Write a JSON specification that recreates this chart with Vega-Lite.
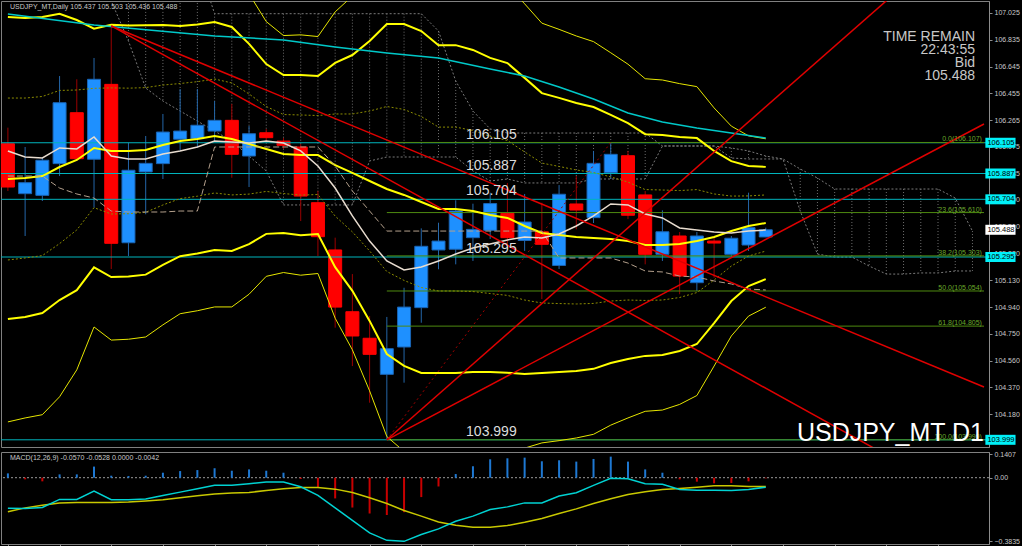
{
"$schema": "https://vega.github.io/schema/vega-lite/v6.json",
"background": "#000000",
"padding": 0,
"spacing": 1,
"config": {
 "view": {"stroke": "#808080", "fill": "#000000"},
 "axis": {"grid": false, "domainColor": "#8c8c8c", "tickColor": "#8c8c8c", "labelColor": "#c8c8c8", "labelFont": "Liberation Sans", "labelFontSize": 7},
 "text": {"font": "Liberation Sans"}
},
"datasets": {
 "bars": [
  {"i":0,"o":106.098,"h":106.212,"l":105.763,"c":105.791,"m":105.848,"u1":106.422,"d1":105.274,"u2":106.996,"d2":104.855,"u3":107.570,"d3":104.126,"tk":106.047,"kj":105.869,"macd":-0.184,"sig":-0.206,"hist":0.026},
  {"i":1,"o":105.744,"h":106.075,"l":105.444,"c":105.822,"m":105.855,"u1":106.422,"d1":105.288,"u2":106.989,"d2":104.870,"u3":107.556,"d3":104.154,"tk":106.004,"kj":105.869,"macd":-0.186,"sig":-0.182,"hist":-0.010},
  {"i":2,"o":105.732,"h":105.999,"l":105.692,"c":105.981,"m":105.869,"u1":106.433,"d1":105.305,"u2":106.997,"d2":104.898,"u3":107.561,"d3":104.177,"tk":105.997,"kj":105.869,"macd":-0.180,"sig":-0.166,"hist":-0.022},
  {"i":3,"o":105.957,"h":106.578,"l":105.869,"c":106.389,"m":105.933,"u1":106.476,"d1":105.390,"u2":107.019,"d2":104.990,"u3":107.562,"d3":104.304,"tk":106.068,"kj":105.784,"macd":-0.131,"sig":-0.152,"hist":0.020},
  {"i":4,"o":106.318,"h":106.555,"l":105.976,"c":105.992,"m":105.983,"u1":106.479,"d1":105.487,"u2":106.975,"d2":105.060,"u3":107.471,"d3":104.495,"tk":106.061,"kj":105.742,"macd":-0.131,"sig":-0.149,"hist":0.020},
  {"i":5,"o":105.988,"h":106.706,"l":105.645,"c":106.555,"m":106.068,"u1":106.491,"d1":105.645,"u2":106.914,"d2":105.222,"u3":107.337,"d3":104.799,"tk":106.146,"kj":105.713,"macd":-0.081,"sig":-0.149,"hist":0.067},
  {"i":6,"o":106.519,"h":106.933,"l":105.210,"c":105.392,"m":106.047,"u1":106.494,"d1":105.600,"u2":106.941,"d2":105.153,"u3":107.388,"d3":104.706,"tk":106.011,"kj":105.621,"macd":-0.133,"sig":-0.149,"hist":0.012},
  {"i":7,"o":105.396,"h":106.105,"l":105.302,"c":105.910,"m":106.047,"u1":106.492,"d1":105.602,"u2":106.937,"d2":105.157,"u3":107.382,"d3":104.712,"tk":105.990,"kj":105.614,"macd":-0.133,"sig":-0.147,"hist":0.010},
  {"i":8,"o":105.898,"h":106.153,"l":105.598,"c":105.959,"m":106.054,"u1":106.496,"d1":105.612,"u2":106.938,"d2":105.170,"u3":107.380,"d3":104.728,"tk":105.990,"kj":105.614,"macd":-0.129,"sig":-0.141,"hist":0.012},
  {"i":9,"o":105.957,"h":106.309,"l":105.848,"c":106.181,"m":106.089,"u1":106.514,"d1":105.664,"u2":106.939,"d2":105.239,"u3":107.364,"d3":104.814,"tk":106.025,"kj":105.614,"macd":-0.107,"sig":-0.133,"hist":0.030},
  {"i":10,"o":106.130,"h":106.486,"l":106.047,"c":106.188,"m":106.117,"u1":106.525,"d1":105.709,"u2":106.933,"d2":105.301,"u3":107.341,"d3":104.893,"tk":106.047,"kj":105.621,"macd":-0.087,"sig":-0.121,"hist":0.040},
  {"i":11,"o":106.134,"h":106.486,"l":106.070,"c":106.229,"m":106.132,"u1":106.538,"d1":105.726,"u2":106.944,"d2":105.320,"u3":107.350,"d3":104.914,"tk":106.075,"kj":105.621,"macd":-0.067,"sig":-0.109,"hist":0.046},
  {"i":12,"o":106.188,"h":106.401,"l":106.117,"c":106.264,"m":106.153,"u1":106.557,"d1":105.749,"u2":106.961,"d2":105.345,"u3":107.365,"d3":104.941,"tk":106.117,"kj":106.075,"macd":-0.046,"sig":-0.099,"hist":0.057},
  {"i":13,"o":106.264,"h":106.380,"l":105.857,"c":106.023,"m":106.132,"u1":106.529,"d1":105.735,"u2":106.926,"d2":105.338,"u3":107.323,"d3":104.941,"tk":106.110,"kj":106.075,"macd":-0.046,"sig":-0.093,"hist":0.042},
  {"i":14,"o":106.011,"h":106.224,"l":105.791,"c":106.169,"m":106.096,"u1":106.451,"d1":105.741,"u2":106.806,"d2":105.386,"u3":107.161,"d3":105.031,"tk":106.103,"kj":106.075,"macd":-0.036,"sig":-0.089,"hist":0.050},
  {"i":15,"o":106.176,"h":106.203,"l":106.117,"c":106.141,"m":106.061,"u1":106.362,"d1":105.760,"u2":106.663,"d2":105.459,"u3":106.964,"d3":105.158,"tk":106.117,"kj":106.075,"macd":-0.026,"sig":-0.077,"hist":0.042},
  {"i":16,"o":106.117,"h":106.139,"l":106.061,"c":106.087,"m":106.025,"u1":106.305,"d1":105.745,"u2":106.585,"d2":105.465,"u3":106.865,"d3":105.185,"tk":106.103,"kj":106.075,"macd":-0.026,"sig":-0.067,"hist":0.030},
  {"i":17,"o":106.075,"h":106.096,"l":105.550,"c":105.727,"m":106.018,"u1":106.302,"d1":105.734,"u2":106.586,"d2":105.450,"u3":106.870,"d3":105.166,"tk":106.047,"kj":106.075,"macd":-0.055,"sig":-0.059,"hist":-0.008},
  {"i":18,"o":105.680,"h":105.763,"l":105.302,"c":105.439,"m":106.018,"u1":106.298,"d1":105.738,"u2":106.578,"d2":105.458,"u3":106.858,"d3":105.178,"tk":105.940,"kj":106.075,"macd":-0.107,"sig":-0.059,"hist":-0.060},
  {"i":19,"o":105.345,"h":105.432,"l":104.794,"c":104.940,"m":105.947,"u1":106.309,"d1":105.585,"u2":106.671,"d2":105.223,"u3":107.033,"d3":104.861,"tk":105.784,"kj":105.940,"macd":-0.182,"sig":-0.069,"hist":-0.125},
  {"i":20,"o":104.907,"h":105.174,"l":104.522,"c":104.735,"m":105.891,"u1":106.309,"d1":105.473,"u2":106.727,"d2":105.055,"u3":107.145,"d3":104.637,"tk":105.586,"kj":105.763,"macd":-0.257,"sig":-0.089,"hist":-0.180},
  {"i":21,"o":104.719,"h":104.877,"l":104.262,"c":104.605,"m":105.834,"u1":106.330,"d1":105.338,"u2":106.826,"d2":104.842,"u3":107.322,"d3":104.346,"tk":105.408,"kj":105.621,"macd":-0.333,"sig":-0.121,"hist":-0.216},
  {"i":22,"o":104.463,"h":104.870,"l":103.999,"c":104.645,"m":105.777,"u1":106.362,"d1":105.192,"u2":106.947,"d2":104.607,"u3":107.532,"d3":104.022,"tk":105.267,"kj":105.479,"macd":-0.378,"sig":-0.156,"hist":-0.225},
  {"i":23,"o":104.657,"h":105.077,"l":104.404,"c":104.940,"m":105.735,"u1":106.341,"d1":105.129,"u2":106.947,"d2":104.523,"u3":107.553,"d3":103.917,"tk":105.203,"kj":105.479,"macd":-0.384,"sig":-0.198,"hist":-0.208},
  {"i":24,"o":104.936,"h":105.498,"l":104.829,"c":105.371,"m":105.685,"u1":106.291,"d1":105.079,"u2":106.897,"d2":104.473,"u3":107.503,"d3":103.867,"tk":105.224,"kj":105.479,"macd":-0.343,"sig":-0.232,"hist":-0.117},
  {"i":25,"o":105.345,"h":105.538,"l":105.208,"c":105.408,"m":105.635,"u1":106.216,"d1":105.054,"u2":106.797,"d2":104.473,"u3":107.378,"d3":103.892,"tk":105.267,"kj":105.479,"macd":-0.309,"sig":-0.267,"hist":-0.053},
  {"i":26,"o":105.350,"h":105.697,"l":105.243,"c":105.621,"m":105.635,"u1":106.216,"d1":105.054,"u2":106.797,"d2":104.473,"u3":107.378,"d3":103.892,"tk":105.316,"kj":105.479,"macd":-0.263,"sig":-0.287,"hist":0.022},
  {"i":27,"o":105.432,"h":105.673,"l":105.267,"c":105.491,"m":105.621,"u1":106.192,"d1":105.050,"u2":106.763,"d2":104.479,"u3":107.334,"d3":103.908,"tk":105.359,"kj":105.479,"macd":-0.232,"sig":-0.299,"hist":0.069},
  {"i":28,"o":105.484,"h":105.751,"l":105.423,"c":105.674,"m":105.593,"u1":106.150,"d1":105.036,"u2":106.707,"d2":104.479,"u3":107.264,"d3":103.922,"tk":105.387,"kj":105.479,"macd":-0.192,"sig":-0.299,"hist":0.111},
  {"i":29,"o":105.605,"h":105.820,"l":105.373,"c":105.432,"m":105.572,"u1":106.121,"d1":105.023,"u2":106.670,"d2":104.474,"u3":107.219,"d3":103.925,"tk":105.416,"kj":105.479,"macd":-0.176,"sig":-0.289,"hist":0.117},
  {"i":30,"o":105.412,"h":105.742,"l":105.338,"c":105.543,"m":105.515,"u1":106.040,"d1":104.990,"u2":106.565,"d2":104.465,"u3":107.090,"d3":103.940,"tk":105.437,"kj":105.479,"macd":-0.152,"sig":-0.269,"hist":0.121},
  {"i":31,"o":105.474,"h":105.680,"l":104.997,"c":105.385,"m":105.465,"u1":105.961,"d1":104.969,"u2":106.457,"d2":104.473,"u3":106.953,"d3":103.977,"tk":105.430,"kj":105.479,"macd":-0.152,"sig":-0.246,"hist":0.099},
  {"i":32,"o":105.235,"h":105.805,"l":105.210,"c":105.740,"m":105.451,"u1":105.937,"d1":104.965,"u2":106.423,"d2":104.479,"u3":106.909,"d3":103.993,"tk":105.458,"kj":105.288,"macd":-0.111,"sig":-0.216,"hist":0.105},
  {"i":33,"o":105.671,"h":105.869,"l":105.491,"c":105.628,"m":105.437,"u1":105.912,"d1":104.962,"u2":106.387,"d2":104.487,"u3":106.862,"d3":104.012,"tk":105.515,"kj":105.288,"macd":-0.091,"sig":-0.188,"hist":0.097},
  {"i":34,"o":105.574,"h":106.047,"l":105.536,"c":105.959,"m":105.430,"u1":105.894,"d1":104.966,"u2":106.358,"d2":104.502,"u3":106.822,"d3":104.038,"tk":105.586,"kj":105.288,"macd":-0.046,"sig":-0.156,"hist":0.113},
  {"i":35,"o":105.893,"h":106.107,"l":105.848,"c":106.023,"m":105.423,"u1":105.863,"d1":104.983,"u2":106.303,"d2":104.543,"u3":106.743,"d3":104.103,"tk":105.671,"kj":105.288,"macd":-0.004,"sig":-0.127,"hist":0.127},
  {"i":36,"o":106.013,"h":106.047,"l":105.564,"c":105.591,"m":105.408,"u1":105.826,"d1":104.990,"u2":106.244,"d2":104.572,"u3":106.662,"d3":104.154,"tk":105.664,"kj":105.252,"macd":-0.006,"sig":-0.101,"hist":0.097},
  {"i":37,"o":105.735,"h":105.763,"l":105.243,"c":105.314,"m":105.380,"u1":105.773,"d1":104.987,"u2":106.166,"d2":104.594,"u3":106.559,"d3":104.201,"tk":105.600,"kj":105.196,"macd":-0.036,"sig":-0.085,"hist":0.050},
  {"i":38,"o":105.314,"h":105.626,"l":105.267,"c":105.474,"m":105.380,"u1":105.770,"d1":104.990,"u2":106.160,"d2":104.600,"u3":106.550,"d3":104.210,"tk":105.572,"kj":105.189,"macd":-0.040,"sig":-0.071,"hist":0.030},
  {"i":39,"o":105.444,"h":105.472,"l":105.031,"c":105.160,"m":105.387,"u1":105.766,"d1":105.008,"u2":106.145,"d2":104.629,"u3":106.524,"d3":104.250,"tk":105.501,"kj":105.160,"macd":-0.071,"sig":-0.065,"hist":-0.010},
  {"i":40,"o":105.113,"h":105.472,"l":105.054,"c":105.444,"m":105.408,"u1":105.773,"d1":105.043,"u2":106.138,"d2":104.678,"u3":106.503,"d3":104.313,"tk":105.486,"kj":105.153,"macd":-0.075,"sig":-0.057,"hist":-0.024},
  {"i":41,"o":105.408,"h":105.444,"l":105.148,"c":105.394,"m":105.437,"u1":105.742,"d1":105.132,"u2":106.047,"d2":104.827,"u3":106.352,"d3":104.522,"tk":105.472,"kj":105.125,"macd":-0.075,"sig":-0.048,"hist":-0.034},
  {"i":42,"o":105.314,"h":105.444,"l":105.290,"c":105.428,"m":105.479,"u1":105.727,"d1":105.231,"u2":105.975,"d2":104.983,"u3":106.223,"d3":104.735,"tk":105.465,"kj":105.104,"macd":-0.077,"sig":-0.048,"hist":-0.032},
  {"i":43,"o":105.380,"h":105.751,"l":105.338,"c":105.503,"m":105.515,"u1":105.728,"d1":105.302,"u2":105.941,"d2":105.089,"u3":106.154,"d3":104.876,"tk":105.479,"kj":105.068,"macd":-0.071,"sig":-0.053,"hist":-0.022},
  {"i":44,"o":105.437,"h":105.503,"l":105.436,"c":105.488,"m":105.536,"u1":105.735,"d1":105.337,"u2":105.934,"d2":105.138,"u3":106.133,"d3":104.939,"tk":105.486,"kj":105.061,"macd":-0.057,"sig":-0.053,"hist":-0.004}
 ],
 "ma": [
  {"i":0,"v":107.018},{"i":5,"v":106.940},{"i":12,"v":106.862},{"i":16,"v":106.834},{"i":19,"v":106.784},{"i":22,"v":106.741},{"i":25,"v":106.706},{"i":28,"v":106.628},{"i":30,"v":106.578},{"i":32,"v":106.500},{"i":34,"v":106.415},{"i":36,"v":106.316},{"i":38,"v":106.252},{"i":40,"v":106.210},{"i":42,"v":106.174},{"i":44,"v":106.139}
 ],
 "kumo": [
  {"i":0,"a":107.394,"b":107.394},{"i":1,"a":107.394,"b":107.394},{"i":2,"a":107.394,"b":107.394},{"i":3,"a":107.394,"b":107.394},{"i":4,"a":107.394,"b":107.394},{"i":5,"a":107.394,"b":107.394},
  {"i":6,"a":107.394,"b":107.110},{"i":7,"a":107.394,"b":106.826},{"i":8,"a":107.394,"b":106.493},{"i":9,"a":107.394,"b":106.401},{"i":10,"a":107.394,"b":106.330},{"i":11,"a":107.394,"b":106.259},
  {"i":12,"a":107.020,"b":106.188},{"i":13,"a":107.020,"b":106.117},{"i":14,"a":107.020,"b":106.011},{"i":15,"a":107.020,"b":105.905},{"i":16,"a":107.020,"b":105.664},{"i":17,"a":107.020,"b":105.664},{"i":18,"a":107.020,"b":105.664},{"i":19,"a":107.020,"b":105.664},{"i":20,"a":107.020,"b":105.664},
  {"i":21,"a":107.020,"b":105.976},{"i":22,"a":107.020,"b":106.004},{"i":23,"a":107.020,"b":106.004},{"i":24,"a":107.020,"b":106.004},{"i":25,"a":106.897,"b":106.004},{"i":26,"a":106.543,"b":106.004},{"i":27,"a":106.330,"b":105.905},{"i":28,"a":106.203,"b":105.834},{"i":29,"a":106.174,"b":105.848},
  {"i":30,"a":106.174,"b":105.820},{"i":31,"a":106.174,"b":105.820},{"i":32,"a":106.174,"b":105.820},{"i":33,"a":106.174,"b":105.820},{"i":34,"a":106.174,"b":105.848},{"i":35,"a":106.174,"b":105.848},{"i":36,"a":106.174,"b":105.848},{"i":37,"a":106.174,"b":105.848},
  {"i":38,"a":106.082,"b":106.082},{"i":39,"a":106.082,"b":106.082},{"i":40,"a":106.082,"b":106.082},{"i":41,"a":106.082,"b":106.082},{"i":42,"a":106.068,"b":105.997},{"i":43,"a":106.047,"b":105.990},{"i":44,"a":106.011,"b":105.990},{"i":45,"a":105.990,"b":105.990},
  {"i":46,"a":105.919,"b":105.621},{"i":47,"a":105.855,"b":105.316},{"i":48,"a":105.777,"b":105.295},{"i":49,"a":105.777,"b":105.295},{"i":50,"a":105.777,"b":105.231},{"i":51,"a":105.777,"b":105.174},{"i":52,"a":105.777,"b":105.174},{"i":53,"a":105.777,"b":105.182},{"i":54,"a":105.777,"b":105.182},{"i":55,"a":105.713,"b":105.196},{"i":56,"a":105.479,"b":105.196}
 ],
 "trend": [
  {"x1":6,"y1":106.933,"x2":56.67,"y2":104.373,"k":"s"},
  {"x1":6,"y1":106.933,"x2":56.67,"y2":103.508,"k":"s"},
  {"x1":22,"y1":103.999,"x2":56.67,"y2":107.72,"k":"s"},
  {"x1":22,"y1":103.999,"x2":56.67,"y2":106.238,"k":"s"},
  {"x1":22,"y1":103.999,"x2":35,"y2":106.107,"k":"d"}
 ],
 "hl": [
  {"p":106.105,"t":"106.105"},{"p":105.887,"t":"105.887"},{"p":105.704,"t":"105.704"},{"p":105.295,"t":"105.295"},{"p":103.999,"t":"103.999"}
 ],
 "fib": [
  {"p":106.107,"t":"0.0(106.107)"},{"p":105.610,"t":"23.6(105.610)"},{"p":105.303,"t":"38.2(105.303)"},{"p":105.054,"t":"50.0(105.054)"},{"p":104.805,"t":"61.8(104.805)"},{"p":103.999,"t":"100.0(103.999)"}
 ]
},
"vconcat": [
 {
  "width": 988, "height": 446,
  "resolve": {"axis": {"x": "independent", "y": "independent"}},
  "layer": [
   {"data": {"name": "kumo"}, "mark": {"type": "rule", "clip": true, "color": "#6e6e6e", "strokeDash": [1, 2], "strokeWidth": 1},
    "encoding": {"x": {"field": "i", "type": "quantitative", "scale": {"domain": [-0.11, 56.67], "nice": false, "zero": false}, "axis": null},
     "y": {"field": "a", "type": "quantitative", "scale": {"domain": [103.948, 107.11], "zero": false, "nice": false},
      "axis": {"orient": "right", "title": null, "values": [107.025, 106.835, 106.645, 106.455, 106.265, 106.075, 105.885, 105.7, 105.51, 105.32, 105.13, 104.94, 104.75, 104.56, 104.37, 104.18], "format": ".3f", "tickSize": 3, "labelPadding": 2, "labels": true, "ticks": true, "domain": true}},
     "y2": {"field": "b"}}},
   {"data": {"name": "kumo"}, "mark": {"type": "line", "clip": true, "color": "#7a7a7a", "strokeDash": [2, 2], "strokeWidth": 1},
    "encoding": {"x": {"field": "i", "type": "quantitative", "axis": null}, "y": {"field": "a", "type": "quantitative", "axis": null}}},
   {"data": {"name": "kumo"}, "mark": {"type": "line", "clip": true, "color": "#7a7a7a", "strokeDash": [2, 2], "strokeWidth": 1},
    "encoding": {"x": {"field": "i", "type": "quantitative", "axis": null}, "y": {"field": "b", "type": "quantitative", "axis": null}}},
   {"data": {"name": "bars"}, "mark": {"type": "rule", "strokeWidth": 1},
    "encoding": {"x": {"field": "i", "type": "quantitative", "axis": null}, "y": {"field": "l", "type": "quantitative", "axis": null}, "y2": {"field": "h"},
     "color": {"condition": {"test": "datum.c >= datum.o", "value": "#2466a8"}, "value": "#9a0000"}}},
   {"data": {"name": "bars"}, "mark": {"type": "bar", "size": 13, "strokeWidth": 1},
    "encoding": {"x": {"field": "i", "type": "quantitative", "axis": null}, "y": {"field": "o", "type": "quantitative", "axis": null}, "y2": {"field": "c"},
     "color": {"condition": {"test": "datum.c >= datum.o", "value": "#1e90ff"}, "value": "#ff0000"},
     "stroke": {"condition": {"test": "datum.c >= datum.o", "value": "#1a64b4"}, "value": "#ff0000"}}},
   {"data": {"name": "hl"}, "mark": {"type": "rule", "color": "#00b4bc", "strokeWidth": 1},
    "encoding": {"y": {"field": "p", "type": "quantitative", "axis": null}}},
   {"data": {"name": "fib"}, "mark": {"type": "rule", "color": "#4e8a10", "strokeWidth": 1},
    "encoding": {"x": {"datum": 22, "axis": null}, "x2": {"datum": 56.67}, "y": {"field": "p", "type": "quantitative", "axis": null}}},
   {"data": {"name": "bars"}, "mark": {"type": "line", "clip": true, "color": "#8c8c00", "strokeDash": [2, 2], "strokeWidth": 1},
    "encoding": {"x": {"field": "i", "type": "quantitative", "axis": null}, "y": {"field": "u1", "type": "quantitative", "axis": null}}},
   {"data": {"name": "bars"}, "mark": {"type": "line", "clip": true, "color": "#8c8c00", "strokeDash": [2, 2], "strokeWidth": 1},
    "encoding": {"x": {"field": "i", "type": "quantitative", "axis": null}, "y": {"field": "d1", "type": "quantitative", "axis": null}}},
   {"data": {"name": "bars"}, "mark": {"type": "line", "clip": true, "color": "#e6e600", "strokeWidth": 1},
    "encoding": {"x": {"field": "i", "type": "quantitative", "axis": null}, "y": {"field": "u3", "type": "quantitative", "axis": null}}},
   {"data": {"name": "bars"}, "mark": {"type": "line", "clip": true, "color": "#e6e600", "strokeWidth": 1},
    "encoding": {"x": {"field": "i", "type": "quantitative", "axis": null}, "y": {"field": "d3", "type": "quantitative", "axis": null}}},
   {"data": {"name": "bars"}, "mark": {"type": "line", "clip": true, "color": "#ffff00", "strokeWidth": 2},
    "encoding": {"x": {"field": "i", "type": "quantitative", "axis": null}, "y": {"field": "u2", "type": "quantitative", "axis": null}}},
   {"data": {"name": "bars"}, "mark": {"type": "line", "clip": true, "color": "#ffff00", "strokeWidth": 2},
    "encoding": {"x": {"field": "i", "type": "quantitative", "axis": null}, "y": {"field": "d2", "type": "quantitative", "axis": null}}},
   {"data": {"name": "bars"}, "mark": {"type": "line", "clip": true, "color": "#ffff00", "strokeWidth": 2},
    "encoding": {"x": {"field": "i", "type": "quantitative", "axis": null}, "y": {"field": "m", "type": "quantitative", "axis": null}}},
   {"data": {"name": "ma"}, "mark": {"type": "line", "clip": true, "color": "#00c8c8", "strokeWidth": 1.5},
    "encoding": {"x": {"field": "i", "type": "quantitative", "axis": null}, "y": {"field": "v", "type": "quantitative", "axis": null}}},
   {"data": {"name": "bars"}, "mark": {"type": "line", "clip": true, "color": "#b4a08c", "strokeDash": [6, 3], "strokeWidth": 1},
    "encoding": {"x": {"field": "i", "type": "quantitative", "axis": null}, "y": {"field": "kj", "type": "quantitative", "axis": null}}},
   {"data": {"name": "bars"}, "mark": {"type": "line", "clip": true, "color": "#e8dccf", "strokeWidth": 1.5},
    "encoding": {"x": {"field": "i", "type": "quantitative", "axis": null}, "y": {"field": "tk", "type": "quantitative", "axis": null}}},
   {"data": {"name": "trend"}, "transform": [{"filter": "datum.k == 's'"}], "mark": {"type": "rule", "clip": true, "color": "#e00000", "strokeWidth": 1.5},
    "encoding": {"x": {"field": "x1", "type": "quantitative", "axis": null}, "y": {"field": "y1", "type": "quantitative", "axis": null}, "x2": {"field": "x2"}, "y2": {"field": "y2"}}},
   {"data": {"name": "trend"}, "transform": [{"filter": "datum.k == 'd'"}], "mark": {"type": "rule", "clip": true, "color": "#a00000", "strokeDash": [2, 3], "strokeWidth": 1},
    "encoding": {"x": {"field": "x1", "type": "quantitative", "axis": null}, "y": {"field": "y1", "type": "quantitative", "axis": null}, "x2": {"field": "x2"}, "y2": {"field": "y2"}}},
   {"data": {"name": "hl"}, "mark": {"type": "text", "align": "left", "baseline": "bottom", "dy": -1, "fontSize": 14, "color": "#dcdcdc"},
    "encoding": {"x": {"datum": 26.6, "axis": null}, "y": {"field": "p", "type": "quantitative", "axis": null}, "text": {"field": "t"}}},
   {"data": {"name": "fib"}, "mark": {"type": "text", "align": "right", "baseline": "bottom", "dy": 0, "fontSize": 7, "color": "#6aa82a"},
    "encoding": {"x": {"datum": 56.55, "axis": null}, "y": {"field": "p", "type": "quantitative", "axis": null}, "text": {"field": "t"}}},
   {"data": {"name": "hl"}, "mark": {"type": "rule", "color": "#00f0f8", "strokeWidth": 10, "strokeCap": "butt"},
    "encoding": {"x": {"datum": 56.75, "axis": null}, "x2": {"datum": 58.5}, "y": {"field": "p", "type": "quantitative", "axis": null}}},
   {"data": {"name": "hl"}, "mark": {"type": "text", "align": "left", "baseline": "middle", "dx": 2, "fontSize": 7.5, "color": "#000000"},
    "encoding": {"x": {"datum": 56.75, "axis": null}, "y": {"field": "p", "type": "quantitative", "axis": null}, "text": {"field": "t"}}},
   {"data": {"values": [{"p": 105.488, "t": "105.488"}]}, "mark": {"type": "rule", "color": "#ffffff", "strokeWidth": 10, "strokeCap": "butt"},
    "encoding": {"x": {"datum": 56.75, "axis": null}, "x2": {"datum": 58.5}, "y": {"field": "p", "type": "quantitative", "axis": null}}},
   {"data": {"values": [{"p": 105.488, "t": "105.488"}]}, "mark": {"type": "text", "align": "left", "baseline": "middle", "dx": 2, "fontSize": 7.5, "color": "#000000"},
    "encoding": {"x": {"datum": 56.75, "axis": null}, "y": {"field": "p", "type": "quantitative", "axis": null}, "text": {"field": "t"}}},
   {"data": {"values": [{}]}, "mark": {"type": "text", "text": ["TIME REMAIN", "22:43:55", "Bid", "105.488"], "lineHeight": 13, "align": "right", "baseline": "top", "fontSize": 14, "color": "#c8c8c8"},
    "encoding": {"x": {"datum": 56.15, "axis": null}, "y": {"datum": 106.904, "axis": null}}},
   {"data": {"values": [{}]}, "mark": {"type": "text", "text": "USDJPY_MT,Daily  105.437 105.503 105.436 105.488", "align": "left", "baseline": "top", "dx": 4, "dy": 2, "fontSize": 7, "color": "#c8c8c8"},
    "encoding": {"x": {"datum": -0.11, "axis": null}, "y": {"datum": 107.11, "axis": null}}},
   {"data": {"values": [{}]}, "mark": {"type": "text", "text": "USDJPY_MT D1", "align": "right", "baseline": "bottom", "dy": -1, "fontSize": 25, "color": "#ffffff"},
    "encoding": {"x": {"datum": 56.67, "axis": null}, "y": {"datum": 103.948, "axis": null}}}
  ]
 },
 {
  "width": 988, "height": 92,
  "resolve": {"axis": {"x": "independent", "y": "independent"}},
  "layer": [
   {"data": {"values": [{}]}, "mark": {"type": "rule", "color": "#9a9a9a", "strokeDash": [2, 2], "strokeWidth": 1},
    "encoding": {"y": {"datum": 0, "type": "quantitative", "scale": {"domain": [-0.4, 0.155], "nice": false, "zero": false},
     "axis": {"orient": "right", "title": null, "values": [0.1407, 0, -0.3835], "labelExpr": "datum.value == 0 ? '0.00' : format(datum.value, '.4f')", "tickSize": 3, "labelPadding": 2, "labels": true, "ticks": true, "domain": true}}}},
   {"data": {"name": "bars"}, "mark": {"type": "bar", "size": 2},
    "encoding": {"x": {"field": "i", "type": "quantitative", "scale": {"domain": [-0.11, 56.67], "nice": false, "zero": false},
      "axis": {"orient": "bottom", "title": null, "values": [0, 3, 6, 9, 12, 15, 18, 21, 24, 27, 30, 33, 36, 39, 42, 45, 48, 51, 54], "labels": false, "ticks": true, "tickSize": 3, "domain": false}},
     "y": {"field": "hist", "type": "quantitative", "axis": null}, "y2": {"datum": 0},
     "color": {"condition": {"test": "datum.hist > 0", "value": "#1e78d2"}, "value": "#c80000"}}},
   {"data": {"name": "bars"}, "mark": {"type": "line", "color": "#c8c800", "strokeWidth": 1.5},
    "encoding": {"x": {"field": "i", "type": "quantitative", "axis": null}, "y": {"field": "sig", "type": "quantitative", "axis": null}}},
   {"data": {"name": "bars"}, "mark": {"type": "line", "color": "#00d2d2", "strokeWidth": 1.5},
    "encoding": {"x": {"field": "i", "type": "quantitative", "axis": null}, "y": {"field": "macd", "type": "quantitative", "axis": null}}},
   {"data": {"values": [{}]}, "mark": {"type": "text", "text": "MACD(12,26,9) -0.0570 -0.0528 0.0000 -0.0042", "align": "left", "baseline": "top", "dx": 4, "dy": 2, "fontSize": 7, "color": "#c8c8c8"},
    "encoding": {"x": {"datum": -0.11, "axis": null}, "y": {"datum": 0.155, "axis": null}}}
  ]
 }
]
}
